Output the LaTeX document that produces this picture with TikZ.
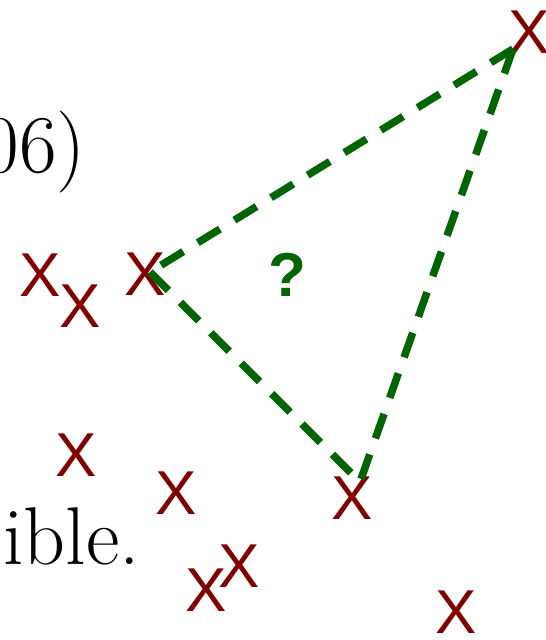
\documentclass[tikz,border=0pt]{standalone}
\usepackage{fontspec}
\newfontfamily\markfont{Liberation Sans}
\usetikzlibrary{positioning,calc}
\definecolor{markred}{RGB}{128,0,0}
\definecolor{guessgreen}{RGB}{0,100,0}

\begin{document}
\begin{tikzpicture}[
	x=1pt, y=-1pt,
	xmark/.style={inner sep=0pt, text=markred, font=\fontsize{62}{62}\selectfont\markfont},
	guess/.style={line width=7.5pt, dash pattern=on 26pt off 17pt, guessgreen},
	query/.style={inner sep=0pt, text=guessgreen, font=\fontsize{62}{62}\selectfont\markfont\bfseries},
	body/.style={inner sep=0pt, font=\fontsize{82}{84}\selectfont}
	]
	\useasboundingbox (0,0) rectangle (546,640);
	
	% cut-off text of the slide
	\node[body, anchor=base east] (txtyear) at (86,172) {06)};
	\node[body, anchor=base west] (txtend) at (3,564) {ible.};
	
	% sample points
	\node[xmark] (x1) at (40,275) {X};
	\node[xmark] (x2) at (80,306) {X};
	\node[xmark] (x3) at (145,274) {X};
	\node[xmark] (x4) at (76,455) {X};
	\node[xmark] (x5) at (176,493) {X};
	\node[xmark] (x6) at (352,498) {X};
	\node[xmark] (x7) at (206,590) {X};
	\node[xmark] (x8) at (239,566) {X};
	\node[xmark] (x9) at (456,612) {X};
	\node[xmark] (x10) at (529,32) {X};
	
	% the triangle
	\coordinate (ta) at ($(x10.center)+(-16,17)$);
	\coordinate (tb) at ($(x3.center)+(5,-2)$);
	\coordinate (tc) at ($(x6.center)+(8,-16)$);
	\draw[guess] (ta) -- (tb);
	\draw[guess] (tb) -- (tc);
	\draw[guess] (ta) -- (tc);
	\node[query] (q) at (287,275) {?};
\end{tikzpicture}
\end{document}
